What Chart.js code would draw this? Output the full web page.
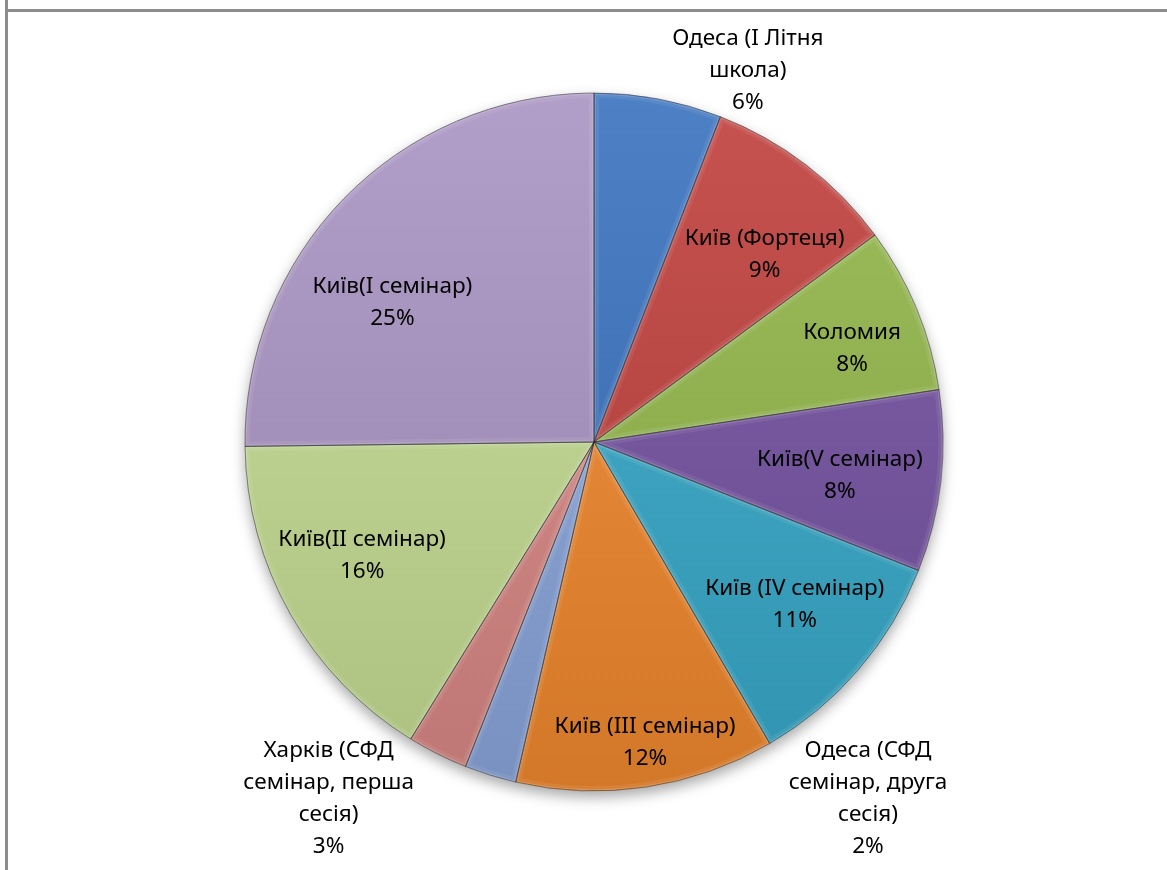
<!DOCTYPE html>
<html>
<head>
<meta charset="utf-8">
<script src="https://cdn.jsdelivr.net/npm/chart.js@4"></script>
<style>
  body { margin: 0; background: #fff; }
  #wrap { position: relative; width: 1167px; height: 870px; overflow: hidden; }
  .frame { position: absolute; left: 5px; top: 9px; width: 1200px; height: 900px;
           border-left: 3px solid #8c8c8c; border-top: 3px solid #8c8c8c; }
  .stub { position: absolute; left: 5px; top: 0; width: 3px; height: 9px; background: #8c8c8c; }
  #graph { position: absolute; left: 0; top: 0; }
</style>
</head>
<body>
<div id="wrap">
  <div class="stub"></div>
  <div class="frame"></div>
  <canvas id="graph" width="1167" height="870"></canvas>
</div>
<script>
// categories (already wrapped the way the labels show them)
const categories = [
    ['Одеса (I Літня', 'школа)'],
    ['Київ (Фортеця)'],
    ['Коломия'],
    ['Київ(V семінар)'],
    ['Київ (IV семінар)'],
    ['Київ (III семінар)'],
    ['Одеса (СФД', 'семінар, друга', 'сесія)'],
    ['Харків (СФД', 'семінар, перша', 'сесія)'],
    ['Київ(II семінар)'],
    ['Київ(I семінар)']
];
// share of each, percent
const values = [5.9, 9.0, 7.7, 8.4, 10.6, 12.0, 2.4, 2.8, 16.0, 25.2];

const colors = ['#3a72bf', '#c0403c', '#93b74b', '#7452a0', '#36a8c8',
                '#f0882d', '#89a5da', '#d88784', '#c4db92', '#a994c3'];

// label placement: shift from slice middle (degrees) and distance (x radius)
const labelShift  = [11.9, 4.9, 2.7, 1.3, -1.7, -1.0, -54.8, 10.0, 3.4, -9.9];
const labelRadius = [1.151, 0.726, 0.786, 0.711, 0.74, 0.874, 1.289, 1.274, 0.74, 0.703];

function shade(hex, amt){
    let r = parseInt(hex.slice(1,3),16), g = parseInt(hex.slice(3,5),16), b = parseInt(hex.slice(5,7),16);
    const f = c => Math.max(0, Math.min(255, Math.round(amt >= 0 ? c + (255-c)*amt : c*(1+amt))));
    return 'rgb(' + f(r) + ',' + f(g) + ',' + f(b) + ')';
}

const total = values.reduce((a,b) => a+b, 0);

const piePlugin = {
    id: 'piePlugin',
    beforeDatasetsDraw(chart){
        const arc = chart.getDatasetMeta(0).data[0];
        if(!arc) return;
        const p = arc.getProps(['x','y','outerRadius']);
        const c = chart.ctx;
        c.save();
        c.shadowColor = 'rgba(0,0,0,0.35)';
        c.shadowBlur = 14;
        c.shadowOffsetY = 6;
        c.fillStyle = '#fff';
        c.beginPath();
        c.arc(p.x, p.y, p.outerRadius, 0, Math.PI*2);
        c.fill();
        c.restore();
    },
    afterDatasetsDraw(chart){
        const c = chart.ctx;
        const meta = chart.getDatasetMeta(0);
        // bevel highlight along slice edges
        meta.data.forEach((arc) => {
            const p = arc.getProps(['x','y','startAngle','endAngle','outerRadius']);
            c.save();
            c.beginPath();
            c.moveTo(p.x, p.y);
            c.arc(p.x, p.y, p.outerRadius, p.startAngle, p.endAngle);
            c.closePath();
            c.clip();
            c.strokeStyle = 'rgba(255,255,255,0.07)';
            c.lineWidth = 10;
            c.stroke();
            c.strokeStyle = 'rgba(255,255,255,0.13)';
            c.lineWidth = 4;
            c.stroke();
            c.restore();
            c.save();
            c.beginPath();
            c.moveTo(p.x, p.y);
            c.arc(p.x, p.y, p.outerRadius, p.startAngle, p.endAngle);
            c.closePath();
            c.strokeStyle = 'rgba(30,30,30,0.5)';
            c.lineWidth = 1;
            c.stroke();
            c.restore();
        });
        // data labels
        c.save();
        c.font = '22.5px "Noto Sans"';
        c.fillStyle = '#000';
        c.textAlign = 'center';
        c.textBaseline = 'middle';
        meta.data.forEach((arc, i) => {
            const p = arc.getProps(['x','y','startAngle','endAngle','outerRadius']);
            const mid = (p.startAngle + p.endAngle)/2 + labelShift[i]*Math.PI/180;
            const r = p.outerRadius * labelRadius[i];
            const lx = p.x + Math.cos(mid)*r;
            const ly = p.y + Math.sin(mid)*r;
            const lines = categories[i].concat([Math.round(values[i]/total*100) + '%']);
            const lh = 32;
            lines.forEach((t, k) => {
                c.fillText(t, lx, ly + (k - (lines.length-1)/2)*lh);
            });
        });
        c.restore();
    }
};

const ctx = document.getElementById('graph');
const config = {
    type: 'pie',
    data: {
        labels: categories,
        datasets: [{
            data: values,
            backgroundColor: (cx) => {
                const area = cx.chart.chartArea;
                const col = colors[cx.dataIndex];
                if(!area) return col;
                const g = cx.chart.ctx.createLinearGradient(0, area.top, 0, area.bottom);
                g.addColorStop(0, shade(col, 0.1));
                g.addColorStop(1, shade(col, -0.12));
                return g;
            },
            borderWidth: 0
        }]
    },
    options: {
        responsive: false,
        animation: false,
        layout: { padding: { top: 93, bottom: 79, left: 244, right: 223 } },
        plugins: {
            legend: { display: false },
            tooltip: { enabled: false }
        }
    },
    plugins: [piePlugin]
};
var chart = new Chart(ctx, config);
</script>
</body>
</html>
